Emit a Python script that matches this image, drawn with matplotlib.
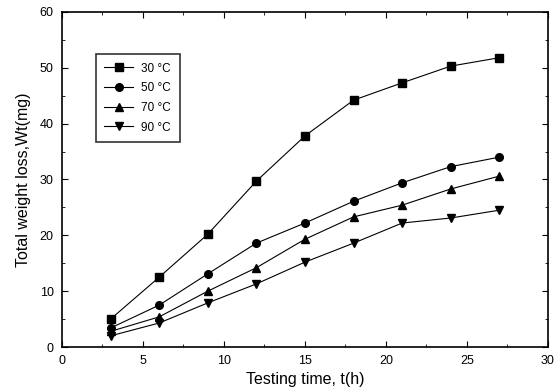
import matplotlib.pyplot as plt
from matplotlib.ticker import MultipleLocator

plt.rcParams['font.family'] = ['Liberation Sans', 'DejaVu Sans']

time_h = [3, 6, 9, 12, 15, 18, 21, 24, 27]
loss_30 = [5.0, 12.5, 20.2, 29.7, 37.8, 44.2, 47.3, 50.3, 51.8]
loss_50 = [3.4, 7.5, 13.1, 18.6, 22.2, 26.1, 29.4, 32.3, 34.0]
loss_70 = [2.8, 5.4, 10.0, 14.2, 19.3, 23.3, 25.4, 28.3, 30.6]
loss_90 = [2.0, 4.3, 7.9, 11.3, 15.2, 18.6, 22.2, 23.1, 24.5]
labels = ['30 °C', '50 °C', '70 °C', '90 °C']
markers = ['s', 'o', '^', 'v']

fig = plt.figure(figsize=(5.56, 3.91), dpi=100)
ax = fig.add_axes([0.1115, 0.1125, 0.874, 0.857])

for ys, lab, m in zip([loss_30, loss_50, loss_70, loss_90], labels, markers):
    ax.plot(time_h, ys, color='black', lw=0.8, marker=m, ms=5.5, label=lab)

ax.set_xlim(0, 30)
ax.set_ylim(0, 60)
ax.xaxis.set_major_locator(MultipleLocator(5))
ax.xaxis.set_minor_locator(MultipleLocator(2.5))
ax.yaxis.set_major_locator(MultipleLocator(10))
ax.yaxis.set_minor_locator(MultipleLocator(5))
ax.tick_params(which='both', direction='in', top=True, right=True, labelsize=9)
ax.tick_params(which='major', length=4, pad=6)
ax.tick_params(which='minor', length=2)
for s in ax.spines.values():
    s.set_linewidth(1.2)

ax.set_xlabel('Testing time, t(h)', fontsize=11.5, labelpad=3)
ax.set_ylabel('Total weight loss,Wt(mg)', fontsize=11.5, labelpad=6)

leg = ax.legend(loc='upper left', bbox_to_anchor=(0.057, 0.893), fontsize=8.5,
                frameon=True, fancybox=False, edgecolor='black',
                handlelength=2.4, handletextpad=0.7, labelspacing=0.65,
                borderpad=0.75)
leg.get_frame().set_linewidth(1.2)

fig.savefig('out.png', dpi=100)
